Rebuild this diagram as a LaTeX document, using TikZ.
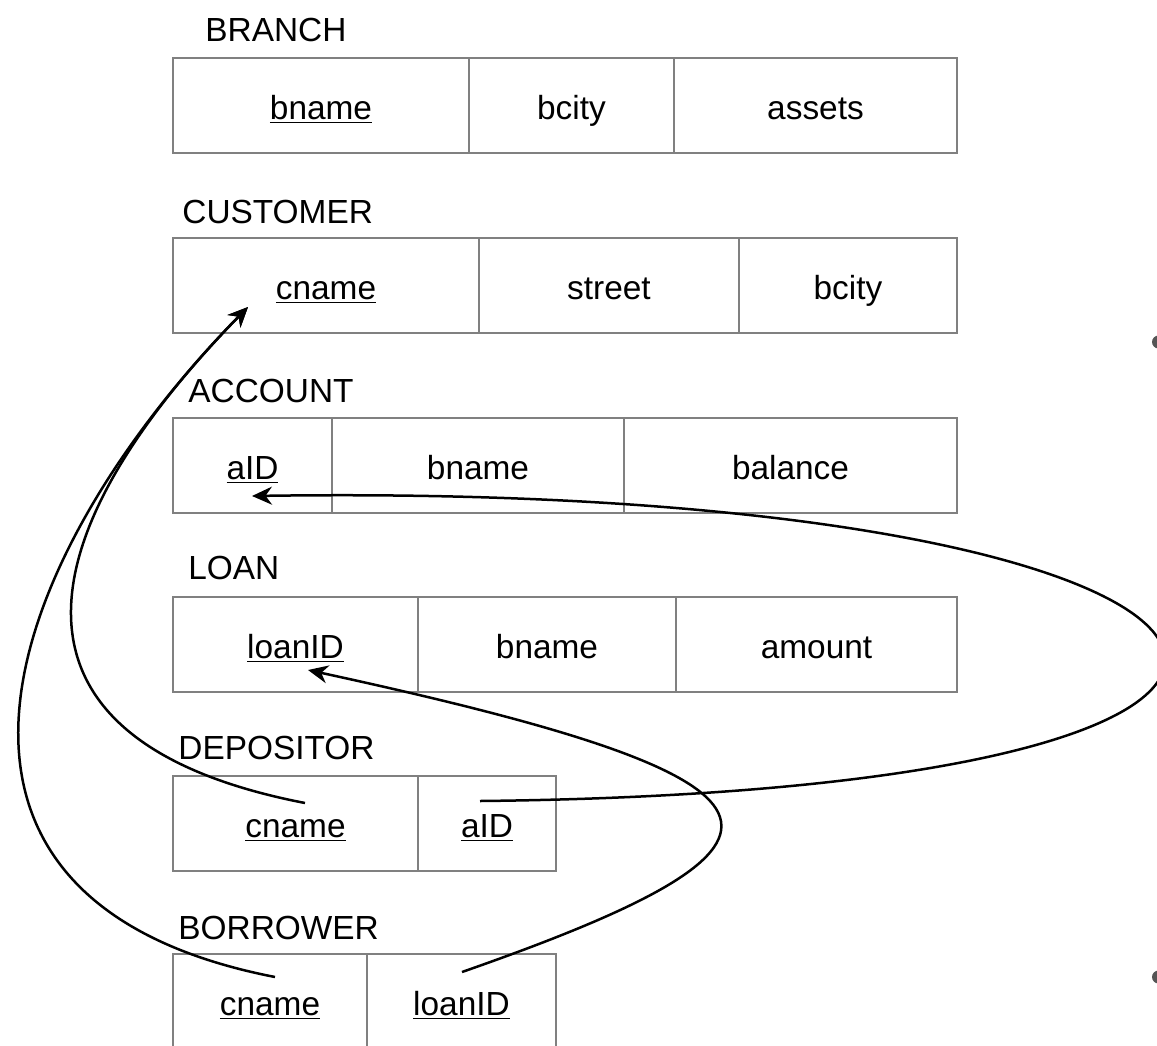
\documentclass[tikz,border=0pt]{standalone}
\usepackage{fontspec}
\setmainfont{Liberation Sans}
\usetikzlibrary{arrows.meta}
\definecolor{tablegray}{RGB}{128,128,128}
\definecolor{dotgray}{RGB}{85,85,85}

\begin{document}
\begin{tikzpicture}[x=0.5pt, y=-0.5pt,
  every node/.style={font=\fontsize{16.7}{20}\selectfont},
  cell/.style={draw=tablegray, line width=1pt, anchor=north west, outer sep=0pt,
    minimum height=47.5pt, inner sep=0pt, text height=15pt, text depth=1.5pt},
  title/.style={anchor=west, inner sep=0pt},
  link/.style={line width=1.25pt, -{Stealth[length=10pt,width=9pt]}}]

\useasboundingbox (0,0) rectangle (1157,1045);

%---------------------------------------
% Relations
%---------------------------------------
% BRANCH
\node[title] (branchT) at (205,30) {BRANCH};
\node[cell, minimum width=148pt]   (branch1) at (173,58) {\underline{bname}};
\node[cell, minimum width=102.5pt] (branch2) at (469,58) {bcity};
\node[cell, minimum width=141.5pt] (branch3) at (674,58) {assets};

% CUSTOMER
\node[title] (custT) at (182,212) {CUSTOMER};
\node[cell, minimum width=153pt] (cust1) at (173,238) {\underline{cname}};
\node[cell, minimum width=130pt] (cust2) at (479,238) {street};
\node[cell, minimum width=109pt] (cust3) at (739,238) {bcity};

% ACCOUNT
\node[title] (accT) at (188,391) {ACCOUNT};
\node[cell, minimum width=79.5pt]  (acc1) at (173,418) {\underline{aID}};
\node[cell, minimum width=146pt]   (acc2) at (332,418) {bname};
\node[cell, minimum width=166.5pt] (acc3) at (624,418) {balance};

% LOAN
\node[title] (loanT) at (188,568) {LOAN};
\node[cell, minimum width=122.5pt] (loan1) at (173,597) {\underline{loanID}};
\node[cell, minimum width=129pt]   (loan2) at (418,597) {bname};
\node[cell, minimum width=140.5pt] (loan3) at (676,597) {amount};

% DEPOSITOR
\node[title] (depT) at (178,748) {DEPOSITOR};
\node[cell, minimum width=122.5pt] (dep1) at (173,776) {\underline{cname}};
\node[cell, minimum width=69pt]    (dep2) at (418,776) {\underline{aID}};

% BORROWER
\node[title] (borT) at (178,928) {BORROWER};
\node[cell, minimum width=97pt]   (bor1) at (173,954) {\underline{cname}};
\node[cell, minimum width=94.5pt] (bor2) at (367,954) {\underline{loanID}};

%---------------------------------------
% Foreign keys
%---------------------------------------
\coordinate (custCn) at (248,307);
\coordinate (accAid) at (252,496);
\coordinate (loanLid) at (308,670);
\coordinate (depCn) at (305,803);
\coordinate (depAid) at (480,801);
\coordinate (borCn) at (275,977);
\coordinate (borLid) at (462,972);

\draw[link] (depCn) .. controls (-20,740) and (28,532) .. (custCn);
\draw[link] (borCn) .. controls (-120,900) and (0,560) .. (custCn);
\draw[link] (depAid) .. controls (1510,790) and (1330,480) .. (accAid);
\draw[link] (borLid) .. controls (840,840) and (815,780) .. (loanLid);

% cut-off bullets at the right edge
\fill[dotgray] (1158.5,342) circle[radius=3.25pt];
\fill[dotgray] (1158.5,977) circle[radius=3.25pt];

\end{tikzpicture}
\end{document}
